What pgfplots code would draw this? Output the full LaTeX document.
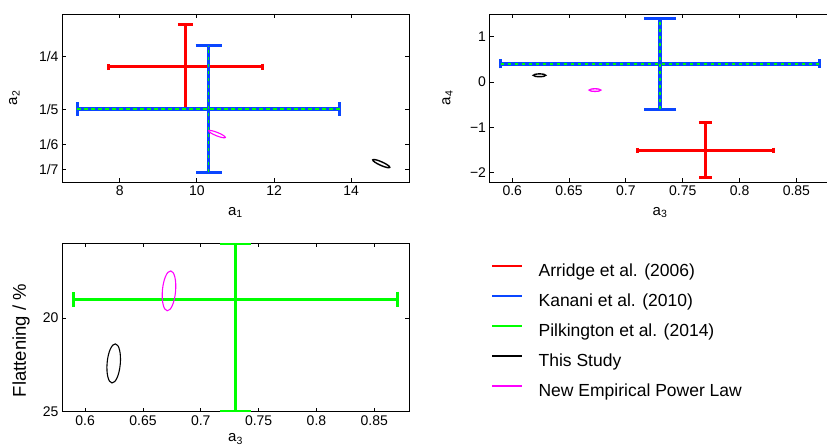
\documentclass[border=0pt]{standalone}
\usepackage{pgfplots}
\pgfplotsset{compat=1.18}
\usepackage{fontspec}
\setmainfont{Liberation Sans}
\definecolor{mred}{RGB}{255,0,0}
\definecolor{mblue}{RGB}{10,70,255}
\definecolor{mgreen}{RGB}{0,255,0}
\definecolor{mmag}{RGB}{255,0,255}

% ellipse-shaped plot marks (confidence ellipses)
\pgfdeclareplotmark{ellTLm}{\pgfpathellipse{\pgfpointorigin}{\pgfpointpolar{-22}{9pt}}{\pgfpointpolar{68}{1.7pt}}\pgfusepathqstroke}
\pgfdeclareplotmark{ellTLk}{\pgfpathellipse{\pgfpointorigin}{\pgfpointpolar{-24}{9.3pt}}{\pgfpointpolar{66}{1.8pt}}\pgfusepathqstroke}
\pgfdeclareplotmark{ellTRk}{\pgfpathellipse{\pgfpointorigin}{\pgfpointpolar{0}{6.2pt}}{\pgfpointpolar{90}{1.4pt}}\pgfusepathqstroke}
\pgfdeclareplotmark{ellTRm}{\pgfpathellipse{\pgfpointorigin}{\pgfpointpolar{0}{5.8pt}}{\pgfpointpolar{90}{1.3pt}}\pgfusepathqstroke}
\pgfdeclareplotmark{ellBm}{\pgfpathellipse{\pgfpointorigin}{\pgfpointpolar{85}{20pt}}{\pgfpointpolar{-5}{6.6pt}}\pgfusepathqstroke}
\pgfdeclareplotmark{ellBk}{\pgfpathellipse{\pgfpointorigin}{\pgfpointpolar{85}{19.6pt}}{\pgfpointpolar{-5}{6.6pt}}\pgfusepathqstroke}

\pgfplotsset{
  mstyle/.style={
    scale only axis, anchor=south west,
    axis line style={line width=0.9pt},
    every tick/.style={black, line width=0.9pt},
    tick align=inside, major tick length=4pt,
    tick label style={font=\fontsize{14}{16}\selectfont},
    /pgf/number format/assume math mode=true,
    label style={font=\fontsize{15}{18}\selectfont},
    xlabel style={at={(axis description cs:0.5,-0.2)}, anchor=base},
  },
  ebx/.style n args={3}{forget plot, mark=none, #1,
    error bars/.cd, x dir=both, x explicit, error mark=|,
    error bar style={line width=#2, #1},
    error mark options={line width=#2, mark size=#3, #1}},
  eby/.style n args={3}{forget plot, mark=none, #1,
    error bars/.cd, y dir=both, y explicit, error mark=|,
    error bar style={line width=#2, #1},
    error mark options={line width=#2, mark size=#3, #1}},
  ovl/.style={forget plot, mgreen, line width=1.6pt, dash pattern=on 3.5pt off 3.5pt},
}

\begin{document}
\begin{tikzpicture}
\useasboundingbox (0,0) rectangle (827pt,446pt);

% ---------------- top left: a1 vs a2 ----------------
\begin{axis}[mstyle, at={(62pt,264pt)}, width=347pt, height=168pt,
  xmin=6.5, xmax=15.5, ymin=0.131, ymax=0.29,
  xtick={8,10,12,14}, xticklabels={8,10,12,14},
  ytick={0.142857,0.166667,0.2,0.25}, yticklabels={1/7,1/6,1/5,1/4},
  xlabel={a\textsubscript{1}}, ylabel={a\textsubscript{2}},
  ylabel style={at={(axis description cs:-0.129,0.5)}, anchor=base}]
% Arridge et al. (2006)
\addplot[ebx={mred}{3pt}{3.3pt}] coordinates {(9.7,0.24) +- (2.0,0)};
\addplot[eby={mred}{3pt}{7.5pt}] coordinates {(9.7,0.24) +- (0,0.04)};
% Kanani et al. (2010)
\addplot[ebx={mblue}{3.2pt}{6.7pt}] coordinates {(10.3,0.2) +- (3.4,0)};
\addplot[eby={mblue}{3.2pt}{13pt}] coordinates {(10.3,0.2) +- (0,0.06)};
% Pilkington et al. (2014)
\addplot[ovl] coordinates {(6.9,0.2) (13.7,0.2)};
\addplot[ovl] coordinates {(10.3,0.14) (10.3,0.26)};
% ellipses
\addplot[forget plot, only marks, mark=ellTLm, mmag, mark options={line width=1.1pt}] coordinates {(10.52,0.1763)};
\addplot[forget plot, only marks, mark=ellTLk, black, mark options={line width=1.4pt}] coordinates {(14.78,0.1484)};
\end{axis}

% ---------------- top right: a3 vs a4 ----------------
\begin{axis}[mstyle, at={(489.5pt,264pt)}, width=341pt, height=168pt,
  xmin=0.58, xmax=0.88, ymin=-2.2, ymax=1.5,
  xtick={0.6,0.65,0.7,0.75,0.8,0.85}, xticklabels={0.6,0.65,0.7,0.75,0.8,0.85},
  ytick={-2,-1,0,1}, yticklabels={−2,−1,0,1},
  xlabel={a\textsubscript{3}}, ylabel={a\textsubscript{4}},
  ylabel style={at={(axis description cs:-0.115,0.5)}, anchor=base}]
\addplot[ebx={mred}{3pt}{2.6pt}] coordinates {(0.77,-1.5) +- (0.06,0)};
\addplot[eby={mred}{3pt}{6.5pt}] coordinates {(0.77,-1.5) +- (0,0.6)};
\addplot[ebx={mblue}{3.2pt}{4.5pt}] coordinates {(0.73,0.4) +- (0.14,0)};
\addplot[eby={mblue}{3.2pt}{16pt}] coordinates {(0.73,0.4) +- (0,1.0)};
\addplot[ovl] coordinates {(0.59,0.4) (0.87,0.4)};
\addplot[ovl] coordinates {(0.73,-0.6) (0.73,1.4)};
\addplot[forget plot, only marks, mark=ellTRk, black, mark options={line width=1.4pt}] coordinates {(0.624,0.15)};
\addplot[forget plot, only marks, mark=ellTRm, mmag, mark options={line width=1.3pt}] coordinates {(0.6728,-0.176)};
\end{axis}

% ---------------- bottom left: a3 vs flattening ----------------
\begin{axis}[mstyle, at={(62pt,34.3pt)}, width=347pt, height=168.4pt,
  xmin=0.58, xmax=0.88, ymin=16, ymax=25, y dir=reverse,
  xtick={0.6,0.65,0.7,0.75,0.8,0.85}, xticklabels={0.6,0.65,0.7,0.75,0.8,0.85},
  ytick={20,25}, yticklabels={20,25},
  xlabel={a\textsubscript{3}}, ylabel={Flattening / \%},
  xlabel style={at={(axis description cs:0.5,-0.178)}, anchor=base},
  ylabel style={at={(axis description cs:-0.104,0.423)}, anchor=base, font=\fontsize{18.5}{20}\selectfont},
  legend style={at={(1.2363,0.878)}, anchor=north west, draw=none, fill=none,
    inner sep=0pt, outer sep=0pt, font=\fontsize{17.5}{20}\selectfont,
    row sep=14pt, column sep=15pt,
    nodes={inner sep=0pt, text height=12.5pt, text depth=3.5pt}},
  legend cell align=left,
  legend image code/.code={\draw[#1, line width=2.6pt] (0pt,5.8pt) -- (30pt,5.8pt);}]
\addplot[ebx={mgreen}{3.3pt}{7.8pt}] coordinates {(0.73,19) +- (0.14,0)};
\addplot[eby={mgreen}{3.3pt}{15.8pt}] coordinates {(0.73,19) += (0,6) -= (0,3)};
\addplot[forget plot, only marks, mark=ellBm, mmag, mark options={line width=1.1pt}] coordinates {(0.6725,18.54)};
\addplot[forget plot, only marks, mark=ellBk, black, mark options={line width=1.1pt}] coordinates {(0.6247,22.42)};
\addlegendimage{mred}
\addlegendentry{Arridge et al. (2006)}
\addlegendimage{mblue}
\addlegendentry{Kanani et al. (2010)}
\addlegendimage{mgreen}
\addlegendentry{Pilkington et al. (2014)}
\addlegendimage{black}
\addlegendentry{This Study}
\addlegendimage{mmag}
\addlegendentry{New Empirical Power Law}
\end{axis}
\end{tikzpicture}
\end{document}
